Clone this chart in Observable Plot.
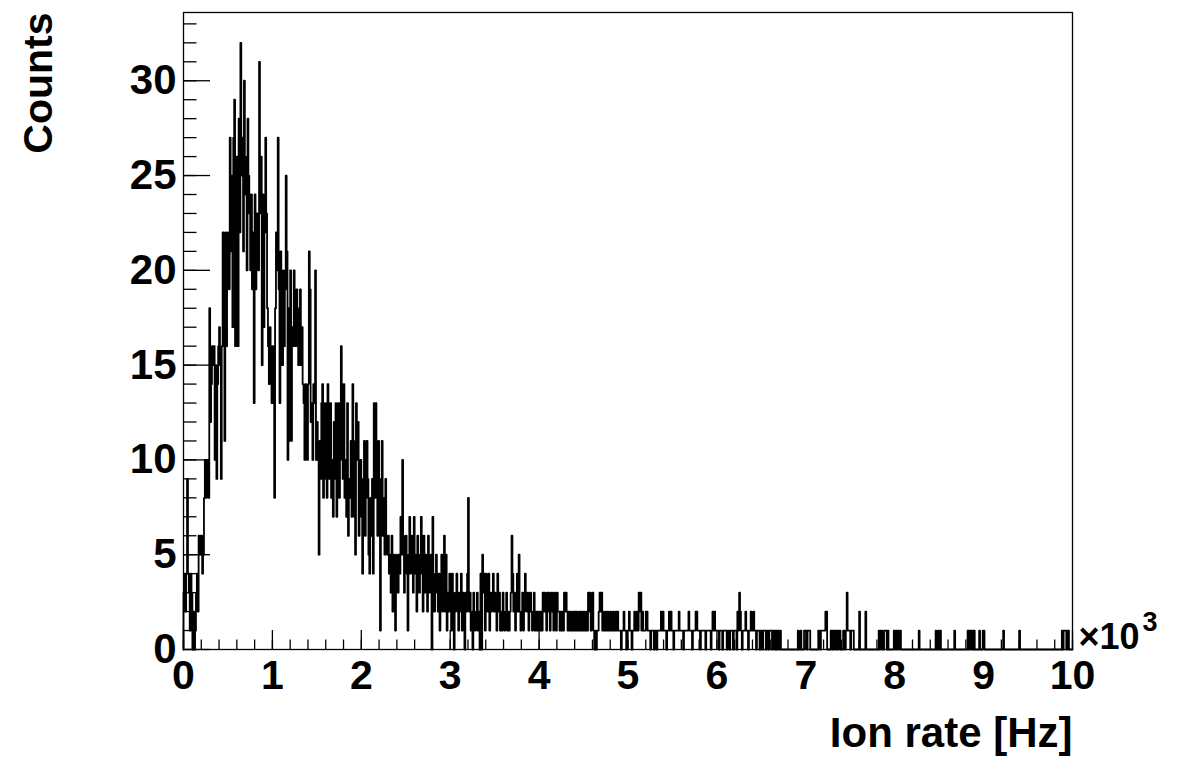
<!DOCTYPE html>
<html><head><meta charset="utf-8">
<script src="https://cdn.jsdelivr.net/npm/d3@7"></script>
<script src="https://cdn.jsdelivr.net/npm/@observablehq/plot@0.6"></script>
<style>body{margin:0;background:#fff} #chart svg{display:block}</style>
</head><body><div id="chart"></div>
<script>
// Histogram: 1000 bins of 10 Hz over 0 .. 10000 Hz (counts per bin)
const binWidth = 10;
const counts0to1k = [
 3,4,2,4,9,4,3,1,4,3,
 0,2,0,1,3,4,2,6,5,6,
 6,4,5,8,10,8,9,10,8,18,
 12,14,16,15,16,10,15,9,14,16,
 17,15,9,16,22,18,11,22,16,20,
 22,19,27,21,25,17,27,29,16,24,
 26,16,28,22,32,25,27,21,30,26,
 24,20,28,25,23,20,24,19,22,13,
 24,19,23,22,20,31,23,26,15,24,
 17,22,27,23,18,16,14,17,16,13];
const counts1kto2k = [
 16,13,8,18,22,20,27,19,13,21,
 18,15,20,16,19,25,21,10,18,11,
 20,11,17,16,20,17,16,19,17,15,
 18,19,15,17,14,13,10,14,13,10,
 14,21,19,12,13,10,14,13,20,10,
 12,10,5,11,9,13,14,8,9,13,
 11,8,14,9,11,13,8,10,7,12,
 9,13,7,9,13,8,10,16,13,9,
 14,8,10,7,13,6,9,8,11,7,
 14,11,7,5,13,10,12,6,8,10];
const counts2kto3k = [
 7,4,9,11,6,8,11,9,5,4,
 8,6,9,4,13,8,13,9,6,11,
 8,1,9,11,6,8,5,9,6,5,
 6,4,5,3,6,2,5,4,1,5,
 4,3,5,4,7,5,10,6,3,5,
 6,4,1,5,7,4,6,5,3,7,
 4,5,2,6,4,3,5,7,4,2,
 6,3,5,4,2,6,3,4,5,0,
 7,3,2,4,5,3,2,4,1,3,
 5,2,4,6,2,5,1,3,2,4];
const counts3kto4k = [
 3,1,4,3,0,2,3,4,2,1,
 3,2,4,1,3,2,0,3,2,4,
 8,2,3,1,2,0,3,2,1,2,
 3,1,2,0,4,0,5,3,4,1,
 4,3,2,4,1,3,2,3,4,2,
 3,2,1,4,2,3,1,2,1,3,
 2,1,2,3,1,2,1,2,3,6,
 4,2,3,1,2,4,2,5,2,1,
 2,3,1,2,4,3,2,3,1,2,
 3,2,1,2,3,1,2,1,2,1];
const counts4kto5k = [
 2,1,2,1,3,2,3,2,1,3,
 2,3,1,2,3,2,1,3,2,1,
 3,2,2,1,2,1,2,1,3,2,
 3,2,1,2,1,2,1,1,2,1,
 2,1,2,1,1,2,1,2,1,1,
 2,1,1,2,1,3,2,3,1,2,
 3,1,0,1,0,1,1,2,3,2,
 3,1,2,1,1,2,1,2,1,1,
 2,1,1,2,1,1,2,1,2,1,
 1,1,0,1,1,2,1,1,0,1];
const counts5kto6k = [
 1,2,1,1,0,1,1,2,1,1,
 2,1,3,2,3,1,2,1,1,1,
 2,2,1,1,1,0,1,1,1,0,
 1,1,0,1,1,1,1,2,1,2,
 1,1,1,0,1,1,2,1,2,1,
 1,0,1,1,1,1,1,2,1,1,
 1,1,0,1,1,1,1,1,2,1,
 1,1,0,1,1,1,2,2,1,1,
 1,0,1,1,1,1,1,0,1,1,
 1,1,1,0,1,2,1,2,1,1];
const counts6kto7k = [
 1,1,0,1,1,1,0,1,1,1,
 1,0,1,1,0,1,1,1,0,1,
 1,1,0,2,1,3,2,1,0,1,
 1,1,2,1,1,0,1,1,2,1,
 1,2,1,1,0,1,1,1,0,1,
 1,0,1,1,1,0,1,1,0,1,
 1,1,0,1,1,0,1,0,1,1,
 0,1,0,0,0,0,0,0,0,0,
 0,0,0,0,0,0,0,0,0,0,
 0,1,0,0,1,0,0,0,1,1];
const counts7kto8k = [
 1,0,1,1,1,0,0,0,0,0,
 0,0,0,0,1,1,0,1,1,1,
 1,1,2,2,0,0,0,0,1,1,
 0,1,1,0,1,1,0,1,1,0,
 0,0,1,1,0,1,3,1,1,1,
 0,1,1,1,0,0,0,0,0,0,
 2,0,0,0,0,0,0,2,0,0,
 0,0,0,0,0,0,0,0,0,0,
 0,0,1,0,1,1,0,0,1,1,
 1,0,1,0,0,0,0,0,0,1];
const counts8kto9k = [
 1,0,1,1,0,1,1,0,0,0,
 0,0,0,0,0,0,0,0,0,0,
 0,0,0,0,0,0,0,1,0,0,
 0,0,0,0,0,0,0,0,0,0,
 0,0,0,0,0,0,1,0,0,1,
 0,1,0,0,0,0,0,0,0,0,
 0,0,0,0,0,0,0,1,0,0,
 0,0,0,0,0,0,0,0,0,0,
 0,0,1,0,1,1,0,1,0,1,
 0,0,0,0,0,1,0,0,0,1];
const counts9kto10k = [
 1,0,0,0,0,0,0,0,0,0,
 0,0,0,0,0,0,0,0,0,0,
 0,0,1,0,0,0,0,0,0,0,
 0,0,0,0,0,0,0,0,0,0,
 1,0,0,0,0,0,0,0,0,0,
 0,0,0,0,0,0,0,0,0,0,
 0,0,0,0,0,0,0,0,0,0,
 0,0,0,0,0,0,0,0,0,0,
 0,0,0,0,0,0,0,0,1,0,
 1,1,1,0,1,1,0,0,0,0];

const xTickLabels = [0,1,2,3,4,5,6,7,8,9,10];   // in units of 10^3 Hz
const yTickLabels = [0,5,10,15,20,25,30];
const xTitle = "Ion rate [Hz]";
const yTitle = "Counts";
const xExponentBase = "\u00d710";
const xExponentPower = "3";

const counts = [].concat(counts0to1k, counts1kto2k, counts2kto3k, counts3kto4k, counts4kto5k,
  counts5kto6k, counts6kto7k, counts7kto8k, counts8kto9k, counts9kto10k);
const steps = [{x: 0, y: 0}, ...counts.map((c, i) => ({x: i * binWidth, y: c})),
  {x: counts.length * binWidth, y: counts[counts.length - 1]}, {x: counts.length * binWidth, y: 0}];

const W = 1191, H = 763;
const mL = 183, mR = 119, mT = 12, mB = 114;
const innerW = W - mL - mR, innerH = H - mT - mB;
const xMax = counts.length * binWidth;
const yMax = d3.max(counts) * 1.05;

const xMajor = xTickLabels.map(d => d * 1000);
const xMinor = d3.range(0, xMax + 1, 200);
const yMinor = d3.range(0, Math.floor(yMax) + 1, 1);
const font = "'Liberation Sans', Arial, Helvetica, sans-serif";
const txt = {fontWeight: "bold", fill: "#000"};

const chart = Plot.plot({
  width: W, height: H,
  marginLeft: mL, marginRight: mR, marginTop: mT, marginBottom: mB,
  style: {fontFamily: font, background: "#fff", color: "#000", overflow: "visible"},
  x: {domain: [0, xMax], axis: null},
  y: {domain: [0, yMax], axis: null},
  marks: [
    Plot.line(steps, {x: "x", y: "y", curve: "step-after", stroke: "#000", strokeWidth: 1.8}),
    Plot.tickX(xMinor, {x: d => d, stroke: "#000", strokeWidth: 1.3, insetTop: innerH - 9.5}),
    Plot.tickX(xMajor, {x: d => d, stroke: "#000", strokeWidth: 1.3, insetTop: innerH - 19}),
    Plot.tickY(yMinor, {y: d => d, stroke: "#000", strokeWidth: 1.3, insetRight: innerW - 13.5}),
    Plot.tickY(yTickLabels, {y: d => d, stroke: "#000", strokeWidth: 1.3, insetRight: innerW - 27}),
    Plot.frame({stroke: "#000", strokeWidth: 1.3}),
    Plot.axisX(xMajor, {label: null, tickSize: 0, tickPadding: 10, tickFormat: d => d / 1000, fontSize: 41, ...txt}),
    Plot.axisY(yTickLabels, {label: null, tickSize: 0, tickPadding: 7, fontSize: 42, ...txt}),
    Plot.text([xTitle], {frameAnchor: "bottom-right", textAnchor: "end", lineAnchor: "middle", dy: 84, fontSize: 42, ...txt}),
    Plot.text([yTitle], {frameAnchor: "top-left", textAnchor: "end", lineAnchor: "middle", rotate: -90, dx: -144.5, dy: 0, fontSize: 41, ...txt}),
    Plot.text([xExponentBase], {frameAnchor: "bottom-right", textAnchor: "start", lineAnchor: "middle", dx: 6, dy: -12, fontSize: 36, ...txt}),
    Plot.text([xExponentPower], {frameAnchor: "bottom-right", textAnchor: "start", lineAnchor: "middle", dx: 70, dy: -27, fontSize: 27, ...txt})
  ]
});
document.getElementById("chart").appendChild(chart);
</script>
</body></html>
